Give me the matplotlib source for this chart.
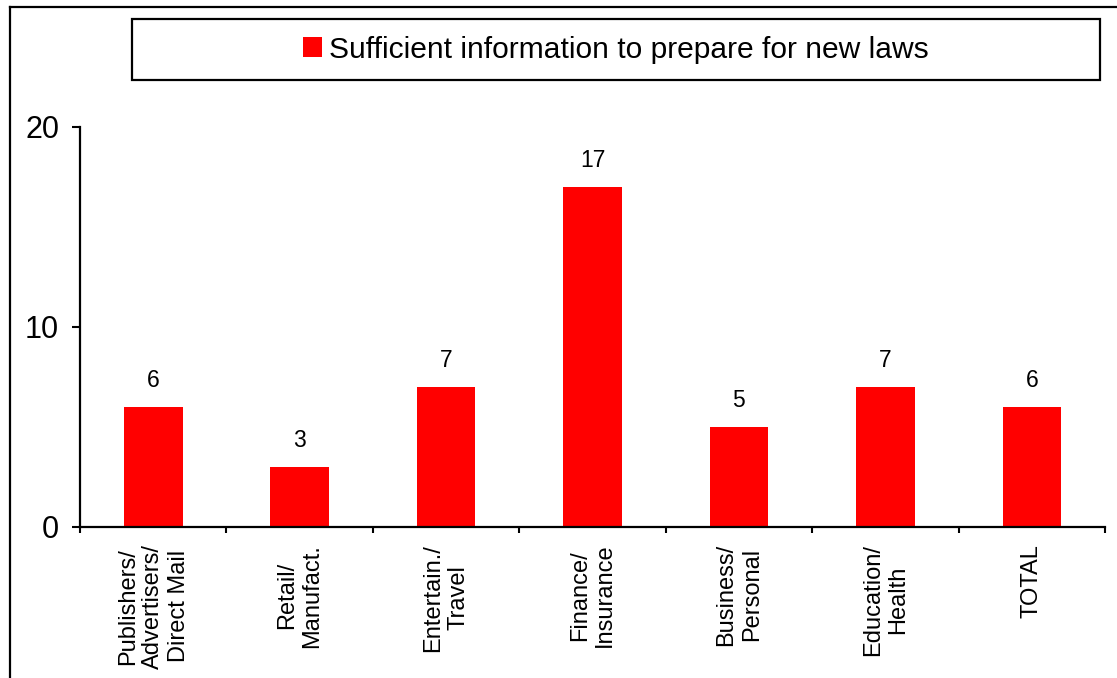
import matplotlib
matplotlib.use("Agg")
import matplotlib.pyplot as plt
from matplotlib.patches import Rectangle
from matplotlib.lines import Line2D
import numpy as np

plt.rcParams["font.family"] = ["Liberation Sans", "DejaVu Sans"]

# ─── Data ─────────────────────────────────────────────────────────────────────

categories = [
    "Publishers/\nAdvertisers/\nDirect Mail",
    "Retail/\nManufact.",
    "Entertain./\nTravel",
    "Finance/\nInsurance",
    "Business/\nPersonal",
    "Education/\nHealth",
    "TOTAL",
]
values = [6, 3, 7, 17, 5, 7, 6]
series_label = "Sufficient information to prepare for new laws"
y_ticks = [0, 10, 20]

W, H = 1117, 678
fig = plt.figure(figsize=(W / 100, H / 100), dpi=100)

# outer frame (only left/top visible in the crop)
fig.add_artist(Line2D([10 / W, 10 / W], [0, 1 - 7 / H], transform=fig.transFigure,
                      color="black", lw=1.6))
fig.add_artist(Line2D([10 / W, 1], [1 - 7 / H, 1 - 7 / H], transform=fig.transFigure,
                      color="black", lw=1.6))

ax = fig.add_axes([80 / W, 1 - 527 / H, (1105 - 80) / W, 400 / H])

x = np.arange(len(values))
bars = ax.bar(x, values, width=0.40, color="#ff0000", label=series_label)

for xi, v in zip(x, values):
    ax.annotate(f"{v}", (xi, v), xytext=(0, 11), textcoords="offset points",
                ha="center", va="bottom", fontsize=16.5)

ax.set_xlim(-0.5, len(values) - 0.5)
ax.set_ylim(0, 20)
ax.set_yticks(y_ticks)
ax.tick_params(axis="y", direction="out", length=6, width=1.5, labelsize=22, pad=9)

ax.set_xticks(x)
ax.set_xticklabels(categories, rotation=90, ha="center", va="top",
                   multialignment="center", fontsize=17)
ax.tick_params(axis="x", which="major", length=0, pad=12)
ax.set_xticks(np.arange(len(values) + 1) - 0.5, minor=True)
ax.tick_params(axis="x", which="minor", direction="out", length=4.5, width=1.5)

for s in ["top", "right"]:
    ax.spines[s].set_visible(False)
for s in ["left", "bottom"]:
    ax.spines[s].set_linewidth(1.6)

# legend box
fig.add_artist(Rectangle((132 / W, 1 - 80 / H), (1100 - 132) / W, 61 / H,
                         transform=fig.transFigure, fill=False, ec="black", lw=1.6))
fig.legend(handles=[bars], labels=[series_label], loc="center",
           bbox_to_anchor=(616 / W, 1 - 49.5 / H), frameon=False, fontsize=21.6,
           handlelength=0.63, handleheight=0.63, handletextpad=0.23)

fig.savefig("out.png", dpi=100)
